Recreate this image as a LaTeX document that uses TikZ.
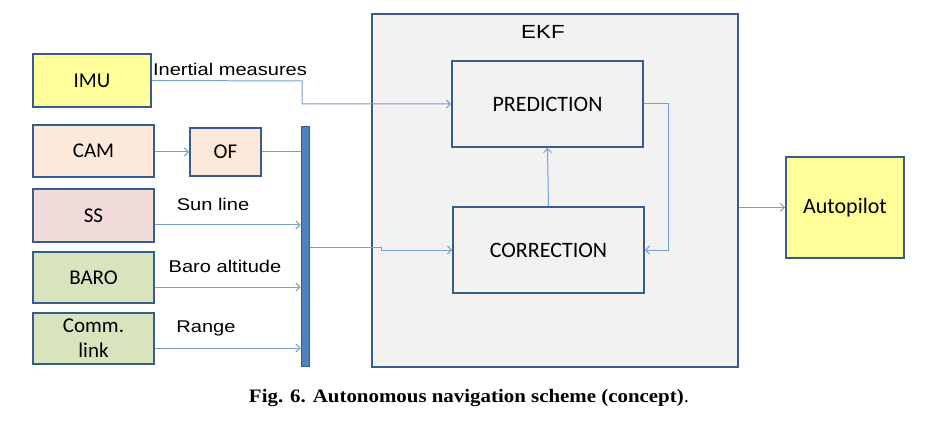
\documentclass[tikz,border=0pt]{standalone}
\usepackage{fontspec}
\setmainfont{Carlito}
\newfontfamily\lblfont[FakeStretch=1.18]{Liberation Sans}
\newfontfamily\capfont[FakeStretch=1.1]{Liberation Serif}
\usetikzlibrary{arrows.meta}
\definecolor{bord}{RGB}{56,93,138}
\definecolor{barfill}{RGB}{79,129,189}
\definecolor{arrcol}{RGB}{120,158,210}
\definecolor{yel}{RGB}{255,255,153}
\definecolor{peach}{RGB}{253,233,217}
\definecolor{pink}{RGB}{242,220,219}
\definecolor{grn}{RGB}{215,228,189}
\definecolor{ekfgray}{RGB}{242,242,242}
\begin{document}
\begin{tikzpicture}[x=1pt,y=-1pt,
  box/.style={draw=bord, line width=2pt, rectangle, inner sep=0pt, font=\fontsize{21}{23}\selectfont},
  bigbox/.style={draw=bord, line width=1.8pt, rectangle, inner sep=0pt, fill=ekfgray, font=\fontsize{22}{24}\selectfont},
  lbl/.style={font=\lblfont\fontsize{17}{19}\selectfont, inner sep=0pt},
  arr/.style={draw=arrcol, line width=1pt, -{Straight Barb[length=4pt,width=8pt]}},
  ln/.style={draw=arrcol, line width=1pt}]
\useasboundingbox (0,0) rectangle (952,430);
% EKF container
\node[draw=bord, line width=1.5pt, fill=ekfgray, minimum width=366, minimum height=353, inner sep=0pt] (ekf) at (555,190.5) {};
\node[font=\lblfont\fontsize{19}{21}\selectfont, inner sep=0pt] (ekflbl) at (543,32) {EKF};
% sensors
\node[box, fill=yel, minimum width=118, minimum height=53] (imu) at (92,80.5) {IMU};
\node[box, fill=peach, minimum width=121, minimum height=52] (cam) at (93.5,151) {CAM};
\node[box, fill=peach, minimum width=71, minimum height=48] (of) at (225.5,152) {OF};
\node[box, fill=pink, minimum width=121, minimum height=53] (ss) at (93.5,215.5) {SS};
\node[box, fill=grn, minimum width=121, minimum height=51] (baro) at (93.5,277.5) {BARO};
\node[box, fill=grn, minimum width=121, minimum height=51, align=center, font=\fontsize{21}{25}\selectfont] (comm) at (93.5,338.5) {Comm.\\link};
% bar
\node[draw=bord, line width=1pt, fill=barfill, minimum width=8, minimum height=239, inner sep=0pt] (bar) at (305,246.5) {};
% EKF blocks
\node[bigbox, minimum width=191, minimum height=86] (pred) at (547.5,104) {PREDICTION};
\node[bigbox, minimum width=191, minimum height=86] (corr) at (548.5,250) {CORRECTION};
% autopilot
\node[box, fill=yel, minimum width=118, minimum height=101, font=\fontsize{22}{24}\selectfont] (ap) at (845,207.5) {Autopilot};
% labels
\node[lbl] (l1) at (230,69) {Inertial measures};
\node[lbl] (l2) at (213,204) {Sun line};
\node[lbl] (l3) at (225,266) {Baro altitude};
\node[lbl] (l4) at (206,328) {Range};
% connectors
\coordinate (imuk1) at (302,81);
\coordinate (imuk2) at (302,104);
\draw[arr] (imu.east) -- (imuk1) -- (imuk2) -- (pred.west);
\draw[arr] (cam.east |- of.west) -- (of.west);
\draw[ln] (of.east) -- (of.east -| bar.west);
\draw[arr] ([yshift=-9.5pt]ss.east) -- ([yshift=-9.5pt]ss.east -| bar.west);
\draw[arr] ([yshift=-9.5pt]baro.east) -- ([yshift=-9.5pt]baro.east -| bar.west);
\draw[arr] ([yshift=-9.5pt]comm.east) -- ([yshift=-9.5pt]comm.east -| bar.west);
\coordinate (bk1) at (381,247);
\coordinate (bk2) at (381,250);
\draw[arr] (bar.east |- bk1) -- (bk1) -- (bk2) -- (corr.west);
\draw[arr] (corr.north) -- (pred.south);
\coordinate (fk1) at (668,104);
\coordinate (fk2) at (668,250);
\draw[arr] (pred.east) -- (fk1) -- (fk2) -- (corr.east);
\draw[arr] (ekf.east |- ap.west) -- (ap.west);
% caption
\node[font=\capfont\fontsize{19}{21}\selectfont, inner sep=0pt] (cap) at (469,398) {\textbf{Fig. 6. Autonomous navigation scheme (concept)}.};
\end{tikzpicture}
\end{document}
